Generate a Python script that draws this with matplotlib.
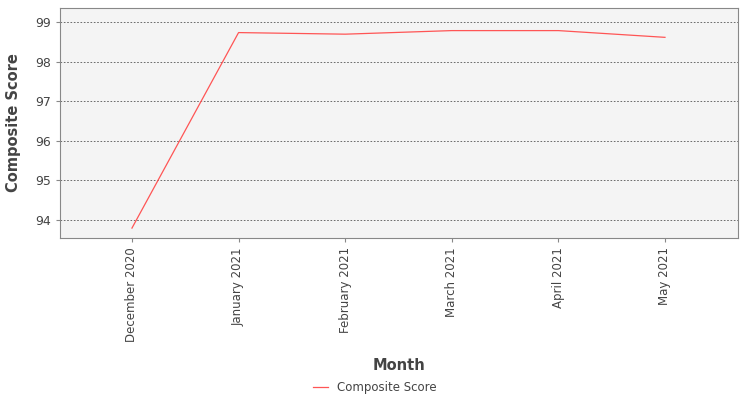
import matplotlib
matplotlib.use("Agg")
import matplotlib.pyplot as plt

months = ["December 2020", "January 2021", "February 2021", "March 2021", "April 2021", "May 2021"]
scores = [93.80, 98.73, 98.69, 98.78, 98.78, 98.61]
yticks = [94, 95, 96, 97, 98, 99]

fig = plt.figure(figsize=(7.5, 4), dpi=100, facecolor="white")
ax = fig.add_axes([0.08, 0.405, 0.904, 0.575])
ax.set_facecolor("#f4f4f4")
x = list(range(len(months)))
ax.plot(x, scores, color="#ff5555", lw=0.9, label="Composite Score")
ax.set_xlim(-0.675, len(months) - 1 + 0.685)
ax.set_ylim(93.55, 99.35)
ax.set_xticks(x)
ax.set_xticklabels(months, rotation=90, fontsize=8.5, color="#444444")
ax.set_yticks(yticks)
ax.set_yticklabels([str(v) for v in yticks], fontsize=9, color="#444444")
ax.yaxis.grid(True, color="#555555", ls=(0, (2, 2)), lw=0.6)
for s in ax.spines.values():
    s.set_color("#888888")
    s.set_linewidth(0.8)
ax.tick_params(color="#888888", length=3)
ax.set_xlabel("Month", fontsize=10.5, fontweight="semibold", color="#444444", labelpad=12)
ax.set_ylabel("Composite Score", fontsize=10.5, fontweight="semibold", color="#444444", labelpad=10)
fig.legend(loc="center", bbox_to_anchor=(0.5, 0.032), frameon=False, fontsize=8.5,
           handlelength=1.2, labelcolor="#444444")
fig.savefig("out.png", dpi=100)
